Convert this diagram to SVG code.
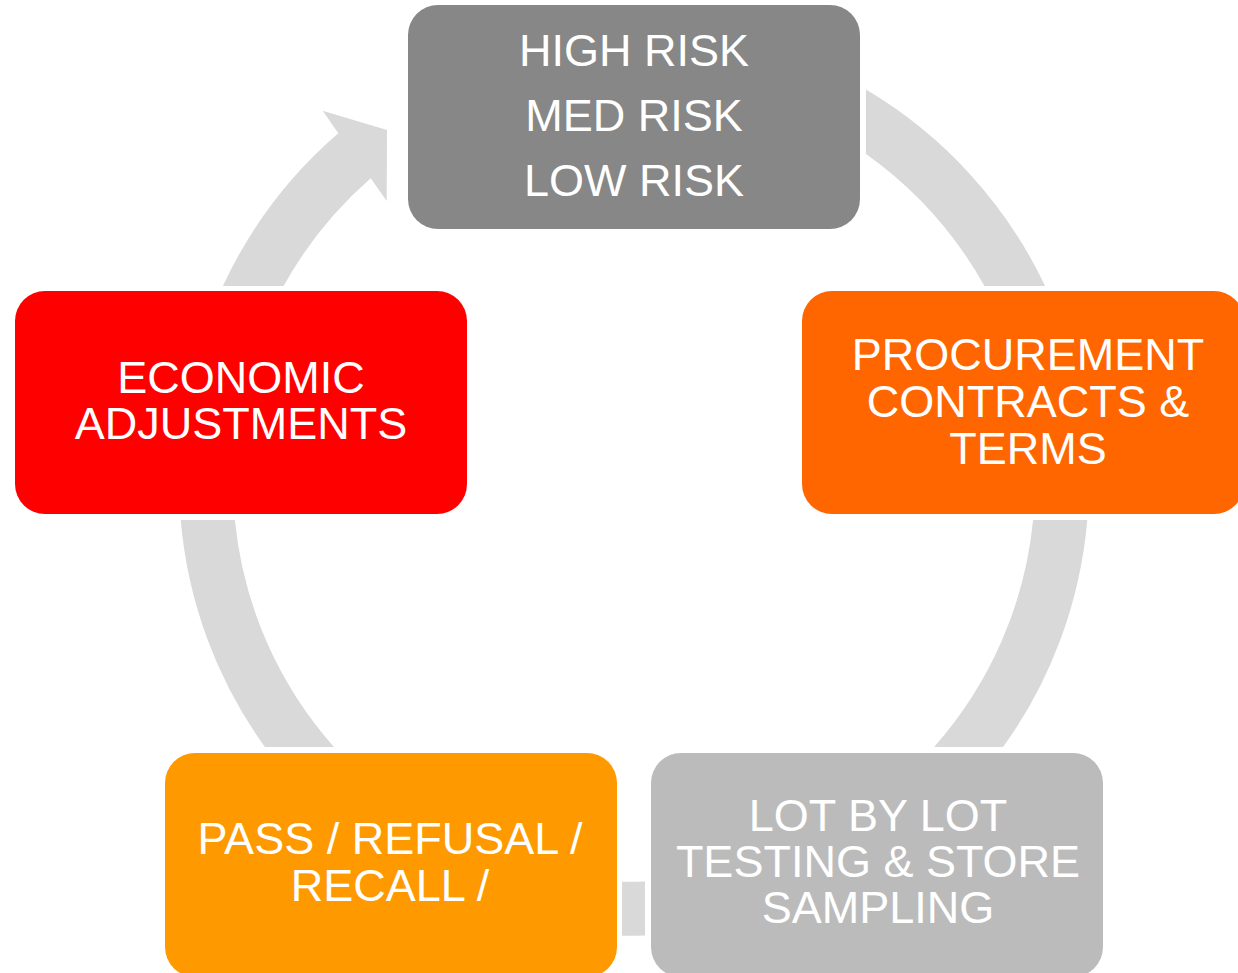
<svg xmlns="http://www.w3.org/2000/svg" width="1238" height="973" viewBox="0 0 1238 973">
<style>
.seg{fill:#D9D9D9;stroke:none}
.box{stroke:none}
.lbl{font-family:"Liberation Sans",Arial,sans-serif;font-size:45px;fill:#FFFFFF;text-anchor:middle}
</style>
<rect width="1238" height="973" fill="#FFFFFF"/>
<g id="connectors">
<path class="seg" d="M866,89.6 A455,455 0 0 1 1045.1,286 L984.4,286 A401,401 0 0 0 866,153.9 Z"/>
<path class="seg" d="M1087.3,520 A455,455 0 0 1 1003.1,747 L934.1,747 A401,401 0 0 0 1033.1,520 Z"/>
<path class="seg" d="M645,935.4 A455,455 0 0 1 622,935.8 L622,881.8 A401,401 0 0 0 645,881.4 Z"/>
<path class="seg" d="M264.9,747 A455,455 0 0 1 180.7,520 L234.9,520 A401,401 0 0 0 333.9,747 Z"/>
<path class="seg" d="M222.9,286 A455,455 0 0 1 338.3,133.3 L322.7,110.7 L387,130 L386.7,201 L370.7,178.3 A401,401 0 0 0 283.6,286 Z"/>
</g>
<g id="node-risk">
<rect class="box" x="408" y="5" width="452" height="224" rx="30" fill="#868786"/>
<text class="lbl" x="634" y="66">HIGH RISK</text>
<text class="lbl" x="634" y="131">MED RISK</text>
<text class="lbl" x="634" y="196">LOW RISK</text>
</g>
<g id="node-procurement">
<rect class="box" x="802" y="291" width="442" height="223" rx="30" fill="#FF6600"/>
<text class="lbl" x="1028" y="370">PROCUREMENT</text>
<text class="lbl" x="1028" y="417">CONTRACTS &amp;</text>
<text class="lbl" x="1028" y="464">TERMS</text>
</g>
<g id="node-testing">
<rect class="box" x="651" y="753" width="452" height="224" rx="30" fill="#BBBBBB"/>
<text class="lbl" x="878" y="831">LOT BY LOT</text>
<text class="lbl" x="878" y="877">TESTING &amp; STORE</text>
<text class="lbl" x="878" y="923">SAMPLING</text>
</g>
<g id="node-pass">
<rect class="box" x="165" y="753" width="452" height="224" rx="30" fill="#FF9900"/>
<text class="lbl" x="390" y="854">PASS / REFUSAL /</text>
<text class="lbl" x="390" y="901">RECALL /</text>
</g>
<g id="node-economic">
<rect class="box" x="15" y="291" width="452" height="223" rx="30" fill="#FF0000"/>
<text class="lbl" x="241" y="393">ECONOMIC</text>
<text class="lbl" x="241" y="439">ADJUSTMENTS</text>
</g>
</svg>
